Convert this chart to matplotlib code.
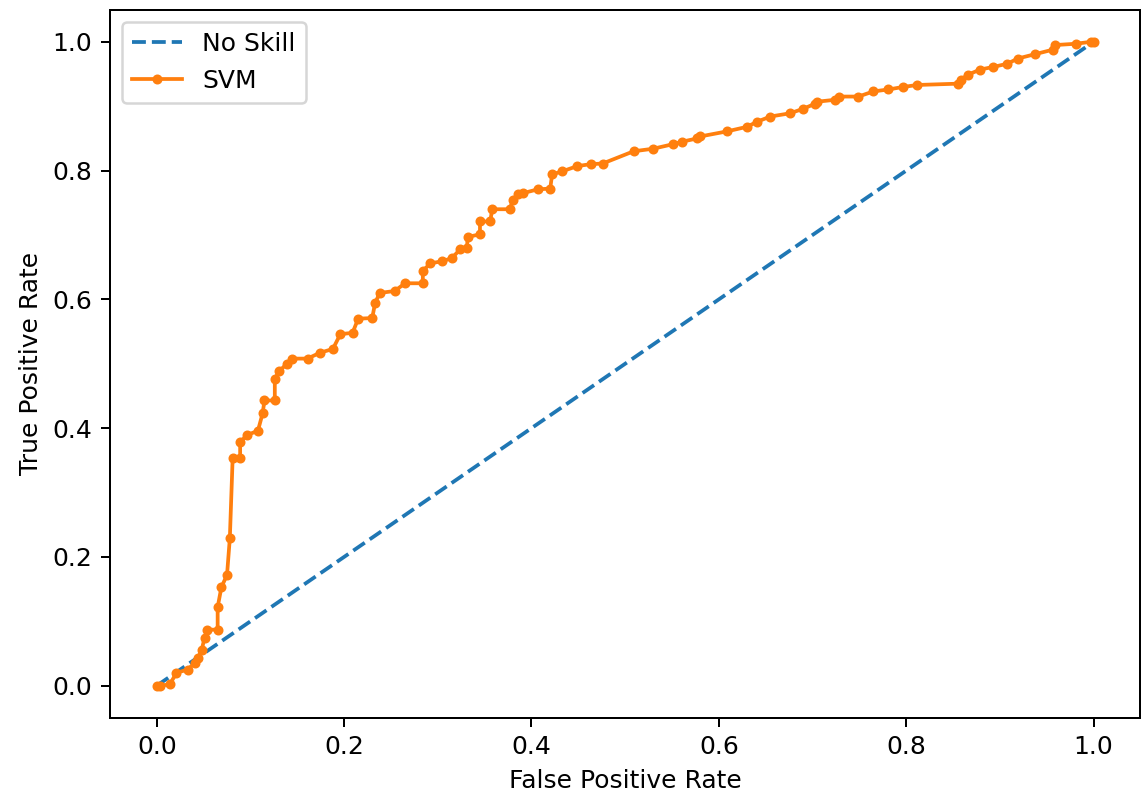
import matplotlib
matplotlib.use("Agg")
import matplotlib.pyplot as plt

# ROC points
fpr = [0.0, 0.003, 0.014, 0.021, 0.033, 0.041, 0.044, 0.048, 0.051, 0.054,
       0.065, 0.065, 0.069, 0.075, 0.078, 0.081, 0.089, 0.089, 0.096, 0.108,
       0.113, 0.115, 0.126, 0.126, 0.131, 0.139, 0.144, 0.161, 0.174, 0.188,
       0.196, 0.209, 0.215, 0.230, 0.233, 0.238, 0.254, 0.265, 0.284, 0.284,
       0.292, 0.304, 0.315, 0.324, 0.331, 0.332, 0.345, 0.345, 0.356, 0.358,
       0.377, 0.380, 0.386, 0.391, 0.407, 0.420, 0.422, 0.433, 0.449, 0.463,
       0.476, 0.509, 0.530, 0.551, 0.561, 0.577, 0.580, 0.609, 0.630, 0.641,
       0.655, 0.676, 0.690, 0.703, 0.705, 0.724, 0.728, 0.749, 0.765, 0.781,
       0.797, 0.812, 0.855, 0.858, 0.866, 0.879, 0.893, 0.908, 0.919, 0.938,
       0.957, 0.959, 0.981, 0.997, 1.0]
tpr = [0.0, 0.0, 0.002, 0.020, 0.025, 0.036, 0.043, 0.056, 0.074, 0.087,
       0.087, 0.122, 0.153, 0.172, 0.229, 0.353, 0.354, 0.378, 0.389, 0.396,
       0.423, 0.443, 0.443, 0.477, 0.489, 0.500, 0.508, 0.508, 0.517, 0.523,
       0.546, 0.548, 0.570, 0.571, 0.594, 0.610, 0.613, 0.625, 0.625, 0.644,
       0.656, 0.659, 0.664, 0.678, 0.680, 0.697, 0.701, 0.721, 0.721, 0.740,
       0.740, 0.755, 0.763, 0.765, 0.771, 0.772, 0.794, 0.799, 0.807, 0.810,
       0.811, 0.830, 0.834, 0.841, 0.845, 0.850, 0.853, 0.861, 0.868, 0.876,
       0.884, 0.889, 0.896, 0.904, 0.907, 0.910, 0.915, 0.915, 0.923, 0.926,
       0.930, 0.933, 0.935, 0.941, 0.949, 0.957, 0.961, 0.966, 0.974, 0.981,
       0.988, 0.995, 0.997, 1.0, 1.0]
ns_fpr = [0.0, 1.0]
ns_tpr = [0.0, 1.0]

fig = plt.figure(figsize=(1145 / 180.0, 803 / 180.0), dpi=180)
ax = fig.add_subplot(111)
plt.subplots_adjust(left=0.096, right=0.996, top=0.988, bottom=0.106)

ax.plot(ns_fpr, ns_tpr, linestyle='--', label='No Skill')
ax.plot(fpr, tpr, marker='.', label='SVM')
ax.set_xlabel('False Positive Rate')
ax.set_ylabel('True Positive Rate')
ax.legend()

plt.savefig('out.png', dpi=180)
